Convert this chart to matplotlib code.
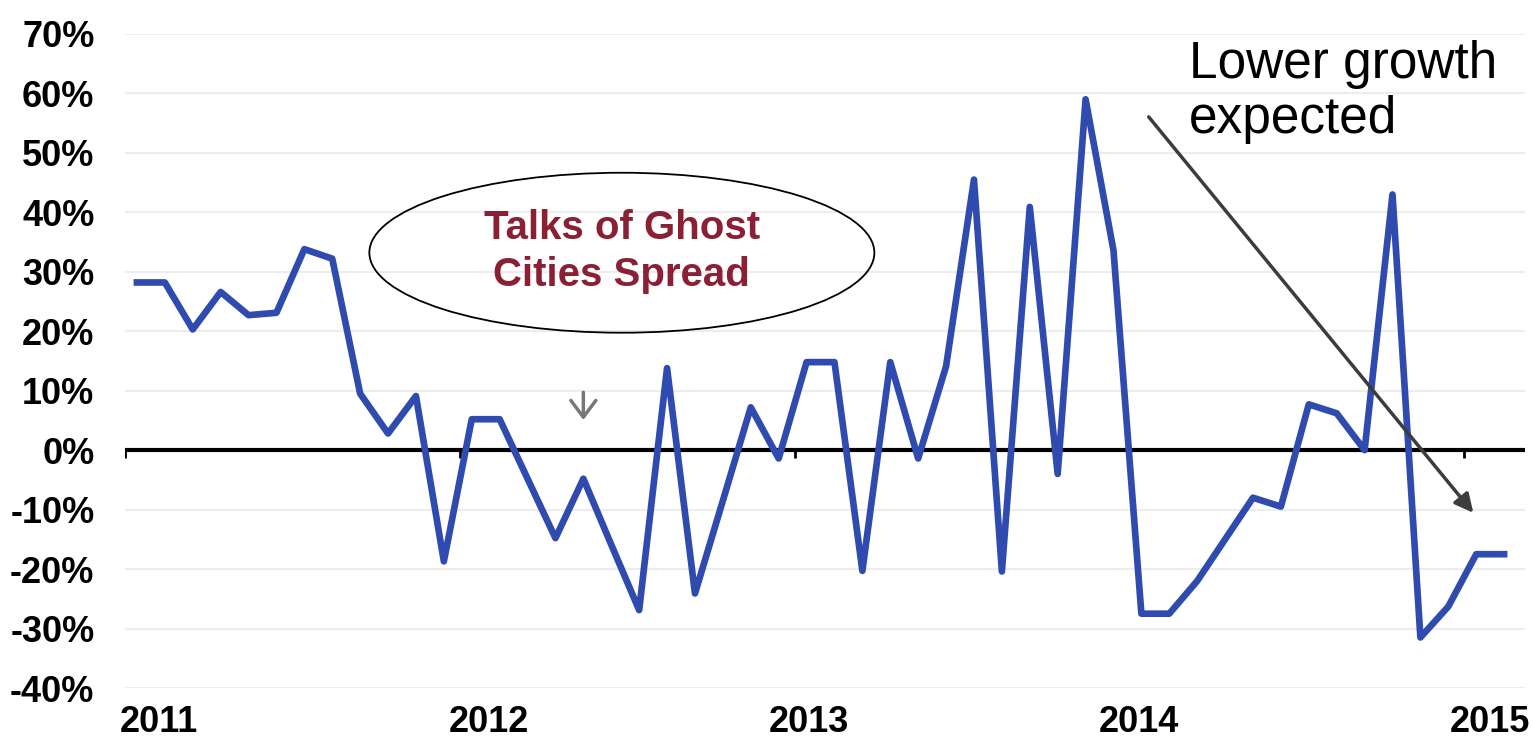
# Monthly growth, 2011-2015, with ghost city annotations
import numpy as np
import matplotlib.pyplot as plt
from matplotlib.patches import Ellipse

plt.rcParams['font.family'] = ['Liberation Sans', 'DejaVu Sans']

# monthly values (%), Jan 2011 .. Feb 2015
growth = [28.2, 28.2, 20.3, 26.6, 22.7, 23.1, 33.8, 32.2, 9.5, 2.8, 9.1, -18.7,
          5.2, 5.2, -4.8, -14.8, -4.8, -15.9, -26.9, 13.8, -24.1, -8.5, 7.2, -1.4,
          14.8, 14.8, -20.3, 14.8, -1.4, 14.1, 45.5, -20.4, 40.9, -4.0, 59.0, 33.6,
          -27.5, -27.5, -22.0, -15.0, -8.0, -9.5, 7.7, 6.2, 0.0, 43.0, -31.5, -26.3,
          -17.5, -17.5]
years = ['2011', '2012', '2013', '2014', '2015']
y_ticks = list(range(-40, 80, 10))
y_labels = ['%d%%' % v for v in y_ticks]

x = np.arange(len(growth))
year_start = np.arange(len(years)) * 12 - 0.43
year_label_pos = [0.8, 12.6, 24.1, 35.9, 48.5]

fig = plt.figure(figsize=(15.33, 7.45), dpi=100)
ax = fig.add_axes([0.0815, 0.0765, 0.9133, 0.878])

ax.set_xlim(-0.43, 49.75)
ax.set_ylim(-40, 70)

# faint horizontal grid
for v in y_ticks:
    if v != 0:
        ax.axhline(v, color='#ededed', lw=1.5, zorder=0)

ax.axhline(0, color='black', lw=3, zorder=1)
ax.vlines(year_start, -1.3, 0, color='black', lw=2, zorder=1)

ax.plot(x, growth, color='#2f4bb0', lw=4.8, zorder=3)

ax.set_yticks(y_ticks)
ax.set_yticklabels(y_labels, fontsize=26, fontweight='bold')
ax.set_xticks(year_label_pos)
ax.set_xticklabels(years, fontsize=26, fontweight='bold')
ax.tick_params(axis='y', length=0, pad=22)
ax.tick_params(axis='x', length=0, pad=12)
for s in ax.spines.values():
    s.set_visible(False)

# ghost cities callout
ell = Ellipse((17.38, 33.2), 18.1, 26.9, facecolor='none', edgecolor='black', lw=1.3, zorder=4)
ax.add_patch(ell)
ax.text(17.38, 33.4, 'Talks of Ghost\nCities Spread', ha='center', va='center',
        fontsize=29, fontweight='bold', color='#8b1f33', linespacing=1.3, zorder=5)
ax.annotate('', xy=(16.0, 4.6), xytext=(16.0, 10.2),
            arrowprops=dict(arrowstyle='->,head_width=0.3,head_length=0.4',
                            color='#777777', lw=2.5, mutation_scale=30))

# lower growth arrow
ax.text(37.7, 69.0, 'Lower growth\nexpected', ha='left', va='top', fontsize=37,
        color='black', linespacing=1.15)
ax.annotate('', xy=(47.96, -10.9), xytext=(36.2, 56.4),
            arrowprops=dict(arrowstyle='-|>', color='#3c3c3c', lw=2.5, mutation_scale=28),
            zorder=6)

plt.savefig('out.png')
